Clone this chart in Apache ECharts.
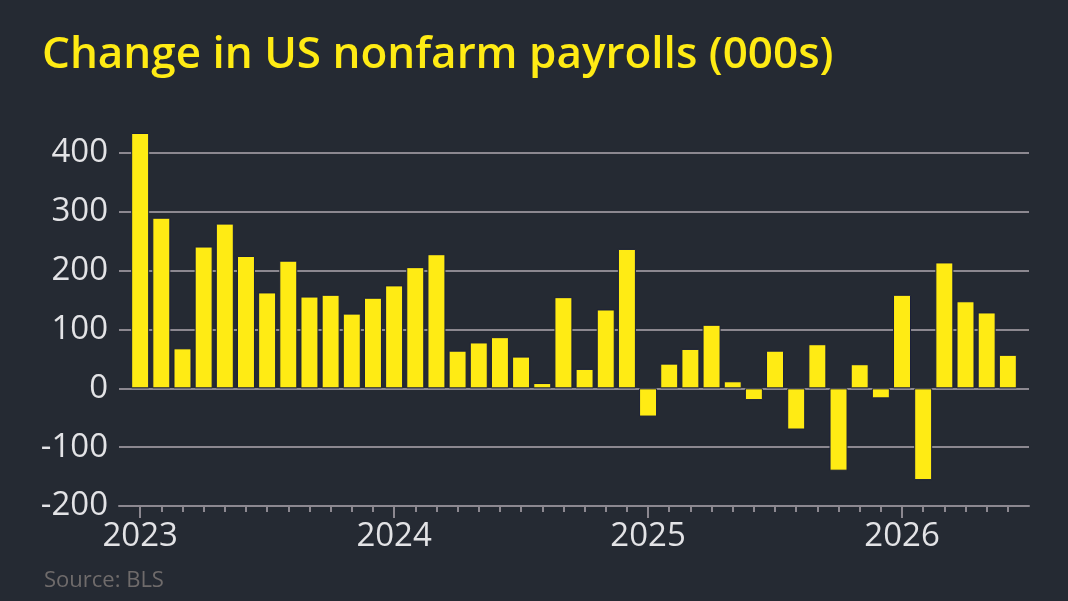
<!DOCTYPE html>
<html>
<head>
<meta charset="utf-8">
<script src="https://cdn.jsdelivr.net/npm/echarts@6/dist/echarts.min.js"></script>
<style>
  html, body { margin: 0; padding: 0; background: #252a33; }
  #chart { width: 1068px; height: 601px; }
</style>
</head>
<body>
<div id="chart"></div>
<script>
// months Jan 2023 .. Jun 2026
const months = [
  '2023-01','2023-02','2023-03','2023-04','2023-05','2023-06','2023-07','2023-08','2023-09','2023-10','2023-11','2023-12',
  '2024-01','2024-02','2024-03','2024-04','2024-05','2024-06','2024-07','2024-08','2024-09','2024-10','2024-11','2024-12',
  '2025-01','2025-02','2025-03','2025-04','2025-05','2025-06','2025-07','2025-08','2025-09','2025-10','2025-11','2025-12',
  '2026-01','2026-02','2026-03','2026-04','2026-05','2026-06'
];
// change in payrolls, thousands
const payrolls = [
  434, 290, 68, 241, 280, 225, 163, 217, 156, 159, 127, 154,
  175, 206, 228, 64, 78, 87, 54, 9, 155, 33, 134, 237,
  -48, 42, 67, 108, 12, -20, 64, -70, 75, -140, 41, -17,
  159, -156, 214, 148, 129, 57
];
const yTicks = [-200, -100, 0, 100, 200, 300, 400];

const yellow = '#ffeb14';
const grey = '#8c8890';
const labelColor = '#e3e3e6';

// one empty slot each side so the bars sit inside the gridlines
const axisData = [''].concat(months, ['']);
const barData = [null].concat(payrolls, [null]);
const isMonth = (i) => i >= 1 && i <= months.length;
const isJan = (i) => isMonth(i) && months[i - 1].slice(5) === '01';

const chart = echarts.init(document.getElementById('chart'));
chart.setOption({
  backgroundColor: '#252a33',
  animation: false,
  title: [{
    text: 'Change in US nonfarm payrolls (000s)',
    left: 37, top: 28,
    textStyle: { color: yellow, fontFamily: 'Open Sans', fontWeight: 600, fontSize: 44 }
  }, {
    text: 'Source: BLS',
    left: 39, top: 565,
    textStyle: { color: '#6f6b6b', fontFamily: 'Open Sans', fontWeight: 'normal', fontSize: 22 }
  }],
  grid: { left: 119, right: 39, top: 153, bottom: 95 },
  xAxis: [{
    type: 'category',
    data: axisData,
    boundaryGap: false,
    axisLine: { onZero: false, lineStyle: { color: grey, width: 2 } },
    axisTick: { length: 6, interval: (i) => isMonth(i), lineStyle: { color: grey, width: 2 } },
    axisLabel: { show: false }
  }, {
    type: 'category',
    data: axisData,
    boundaryGap: false,
    position: 'bottom',
    axisLine: { show: false, onZero: false },
    axisTick: { length: 12, interval: (i) => isJan(i), lineStyle: { color: grey, width: 2 } },
    axisLabel: {
      interval: (i) => isJan(i),
      formatter: (v) => v.slice(0, 4),
      color: labelColor, fontFamily: 'Open Sans', fontSize: 33, margin: 14
    }
  }],
  yAxis: {
    type: 'value',
    min: yTicks[0], max: yTicks[yTicks.length - 1], interval: 100,
    axisLine: { show: false },
    axisTick: { show: false },
    axisLabel: { color: labelColor, fontFamily: 'Open Sans', fontSize: 33, margin: 11 },
    splitLine: { lineStyle: { color: grey, width: 2 } }
  },
  series: [{
    type: 'bar',
    data: barData,
    barWidth: 18,
    clip: false,
    itemStyle: { color: yellow, borderColor: '#1a1f3a', borderWidth: 1 }
  }]
});
</script>
</body>
</html>
